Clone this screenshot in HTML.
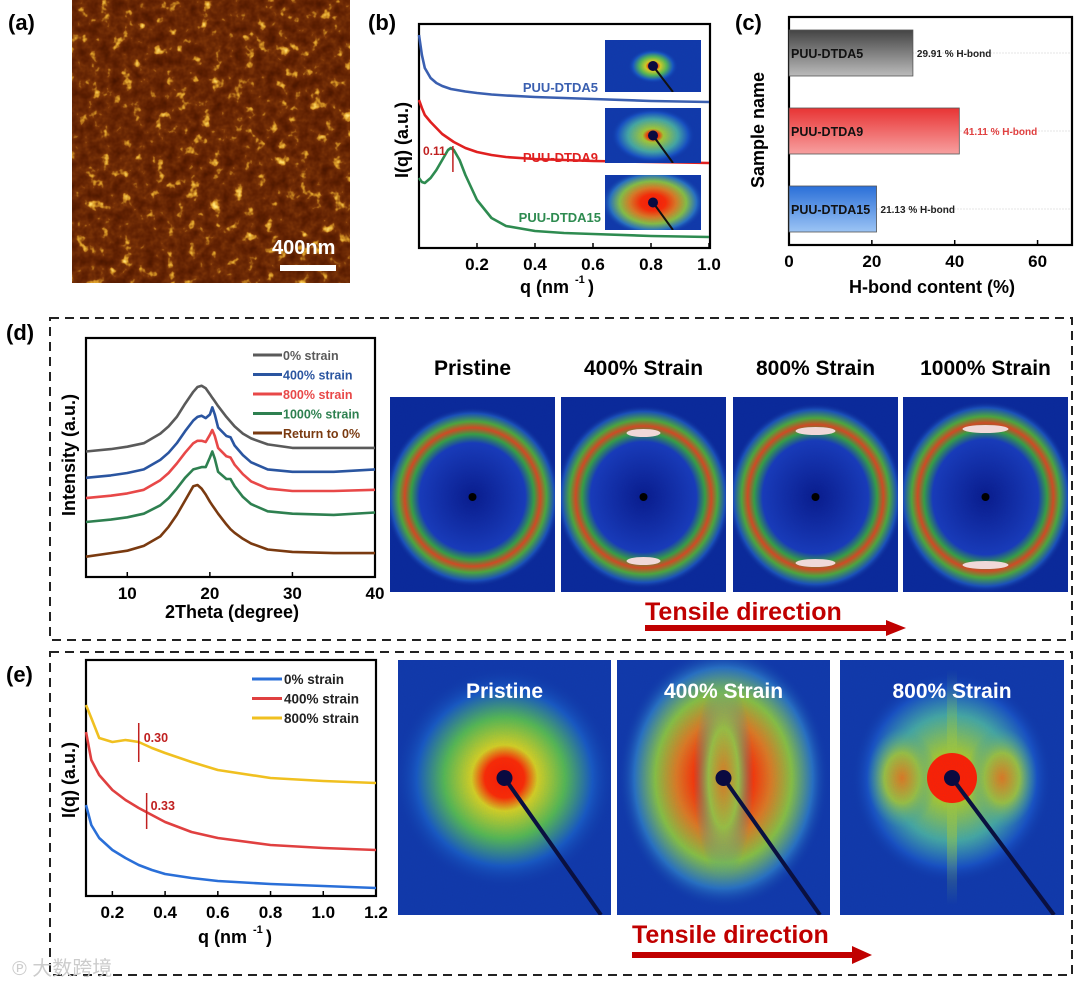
<!DOCTYPE html>
<html><head><meta charset="utf-8"><style>
html,body{margin:0;padding:0;background:#fff;width:1080px;height:983px;overflow:hidden}
svg{display:block;font-family:"Liberation Sans","Noto Sans CJK SC",sans-serif;font-weight:bold}
</style></head><body>
<svg id="fig" width="1080" height="983" viewBox="0 0 1080 983">
<defs>
<filter id="afm" x="0" y="0" width="100%" height="100%" color-interpolation-filters="sRGB">
<feTurbulence type="fractalNoise" baseFrequency="0.09" numOctaves="3" seed="4"/>
<feColorMatrix type="matrix" values="1 0 0 0 0 1 0 0 0 0 1 0 0 0 0 0 0 0 0 1"/>
<feComponentTransfer><feFuncR type="table" tableValues="0.26 0.3 0.34 0.38 0.42 0.48 0.85 1 1"/><feFuncG type="table" tableValues="0.07 0.09 0.11 0.13 0.16 0.2 0.6 0.85 0.95"/><feFuncB type="table" tableValues="0 0 0 0.01 0.02 0.03 0.15 0.4 0.6"/><feFuncA type="table" tableValues="1 1"/></feComponentTransfer>
</filter>
<filter id="speck" x="0" y="0" width="100%" height="100%">
<feTurbulence type="fractalNoise" baseFrequency="0.9" numOctaves="1" seed="2" result="n"/>
<feColorMatrix in="n" type="matrix" values="0 0 0 0 0 0 0 0 0 0.1 0 0 0 0 0.6 0 0 0 0.25 0"/>
</filter>
<radialGradient id="ringD"><stop offset="0" stop-color="#0a1a8a"/><stop offset="0.6" stop-color="#1a3ab8"/><stop offset="0.7" stop-color="#3aa040"/><stop offset="0.77" stop-color="#d84a1e"/><stop offset="0.84" stop-color="#50a838"/><stop offset="0.93" stop-color="#1c50b8"/><stop offset="1" stop-color="#0d2590" stop-opacity="0"/></radialGradient>
<radialGradient id="saxs1"><stop offset="0" stop-color="#ff1a00"/><stop offset="0.18" stop-color="#ff2a00"/><stop offset="0.3" stop-color="#d8d020"/><stop offset="0.55" stop-color="#58b850"/><stop offset="0.8" stop-color="#1a58c0"/><stop offset="1" stop-color="#123aa8" stop-opacity="0"/></radialGradient>
<radialGradient id="saxs2"><stop offset="0" stop-color="#ff1a00"/><stop offset="0.25" stop-color="#ff2a00"/><stop offset="0.45" stop-color="#e07a20"/><stop offset="0.65" stop-color="#8ac040"/><stop offset="0.85" stop-color="#2a70c0"/><stop offset="1" stop-color="#123aa8" stop-opacity="0"/></radialGradient>
<radialGradient id="saxs3"><stop offset="0" stop-color="#ff1a00"/><stop offset="0.13" stop-color="#ff2a00"/><stop offset="0.25" stop-color="#a8c830"/><stop offset="0.6" stop-color="#48a8a0"/><stop offset="0.85" stop-color="#1a50c0"/><stop offset="1" stop-color="#123aa8" stop-opacity="0"/></radialGradient>
<radialGradient id="lobe"><stop offset="0" stop-color="#e07a20"/><stop offset="0.5" stop-color="#9cc040"/><stop offset="1" stop-color="#40a0a0" stop-opacity="0"/></radialGradient>
<linearGradient id="band" x1="0" y1="0" x2="0" y2="1"><stop offset="0" stop-color="#70b860" stop-opacity="0"/><stop offset="0.3" stop-color="#a0c840"/><stop offset="0.7" stop-color="#a0c840"/><stop offset="1" stop-color="#70b860" stop-opacity="0"/></linearGradient>
<linearGradient id="gGray" x1="0" y1="0" x2="0" y2="1"><stop offset="0" stop-color="#444"/><stop offset="1" stop-color="#bbb"/></linearGradient>
<linearGradient id="gRed" x1="0" y1="0" x2="0" y2="1"><stop offset="0" stop-color="#e83434"/><stop offset="1" stop-color="#f7a0a0"/></linearGradient>
<linearGradient id="gBlue" x1="0" y1="0" x2="0" y2="1"><stop offset="0" stop-color="#2a6fd8"/><stop offset="1" stop-color="#9cc4f4"/></linearGradient>
</defs>

<text x="8" y="30" font-size="22">(a)</text>
<rect x="72" y="0" width="278" height="283" fill="#6a3008" filter="url(#afm)"/>
<text x="272" y="254" font-size="20" fill="#fff">400nm</text>
<rect x="280" y="265" width="56" height="6" fill="#fff"/>

<text x="368" y="30" font-size="22">(b)</text>
<g id="pb"></g>
<text x="735" y="30" font-size="22">(c)</text>
<g id="pc"></g>

<rect x="50" y="318" width="1022" height="322" fill="none" stroke="#222" stroke-width="2" stroke-dasharray="9,6"/>
<text x="6" y="340" font-size="22">(d)</text>
<g id="pd"></g>
<g id="dimgs"></g>
<text x="645" y="620" font-size="25" fill="#c00000">Tensile direction</text>
<path d="M645 628 H890" stroke="#c00000" stroke-width="6"/><path d="M886 620 L906 628 L886 636 Z" fill="#c00000"/>

<rect x="50" y="652" width="1022" height="323" fill="none" stroke="#222" stroke-width="2" stroke-dasharray="9,6"/>
<text x="6" y="682" font-size="22">(e)</text>
<g id="pe"></g>
<g id="eimgs"></g>
<text x="632" y="943" font-size="25" fill="#c00000">Tensile direction</text>
<path d="M632 955 H855" stroke="#c00000" stroke-width="6"/><path d="M852 946 L872 955 L852 964 Z" fill="#c00000"/>
<text x="12" y="975" font-size="20" fill="#ccc" font-weight="normal">℗ 大数跨境</text>
</svg>
<script>
var bQ=[0,0.01,0.02,0.04,0.06,0.08,0.1,0.11,0.12,0.14,0.16,0.2,0.25,0.3,0.4,0.5,0.6,0.8,1.0];
var bBlue=[213,193,180,170,165,162,160,159,158.5,157.5,156.5,155,153.5,152.5,151,150,149,147,146];
var bRed=[148,140,133,126,120,114,110,108,106,103,100,96,93,91,89,88,87,86,85];
var bGreen=[70,66,65,70,78,88,98,100,98,88,73,48,30,22,17,15,14,12,11];
var bTicks=[0.2,0.4,0.6,0.8,1.0];
var cNames=["PUU-DTDA5","PUU-DTDA9","PUU-DTDA15"];
var cValues=[29.91,41.11,21.13];
var cTicks=[0,20,40,60];
var dTheta=[5,8,10,12,14,15,16,17,18,18.5,19,19.5,20,20.3,20.6,21,22,22.5,23,24,25,27,30,35,40];
var d0=[52.5,53.5,54.5,56,60,63,67,72.5,77.5,79.5,80,79,76.5,75,73.5,71.5,67,65,63,60,58,55.5,54,54,54];
var d400=[41.5,42.5,43.5,45,49,52,56,61,65.5,67,67.5,66.5,68,71,68,62.5,59,58.5,55,51,48,45,44,44,45];
var d800=[33,34,35,36.5,40.5,43.5,47.5,52,56,57,57,56.5,59.5,61.5,59,54,50.5,50,47,43,40,37,36,36,36.5];
var d1000=[23,24,25,26.5,30,33,37,41.5,45,45.5,46,46,50,52.5,49.5,44,41,41,38,33.5,30.5,27.5,26.5,26,27];
var dRet=[8.5,10,11,13,17,21,26,32,38,38.5,37,34.5,31.5,30,28.5,26.5,22,20,18.5,16,14,11.5,10.5,10,10];
var dTicks=[10,20,30,40];
var dLegend=["0% strain","400% strain","800% strain","1000% strain","Return to 0%"];
var eQ=[0.1,0.12,0.15,0.2,0.25,0.3,0.35,0.4,0.5,0.6,0.8,1.0,1.2];
var e800=[191,178,158,154,156,154,148,143,134,126,118,115,113];
var e400=[164,136,121,106,96,88,81,74,64,58,51,48,46];
var e0=[91,71,58,46,38,31,26,22,18,15,12,10,8];
var eTicks=[0.2,0.4,0.6,0.8,1.0,1.2];
var eLegend=["0% strain","400% strain","800% strain"];

var NS="http://www.w3.org/2000/svg";
function mk(p,tag,at,txt){var e=document.createElementNS(NS,tag);for(var k in at)e.setAttribute(k,at[k]);if(txt!=null)e.textContent=txt;p.appendChild(e);return e;}
function lin(d0,d1,r0,r1){return function(v){return r0+(v-d0)/(d1-d0)*(r1-r0);};}
function line(g,xs,ys,sx,sy,col,name){var d="";for(var i=0;i<xs.length;i++){d+=(i?"L":"M")+sx(xs[i]).toFixed(1)+" "+sy(ys[i]).toFixed(1);}
 var p=mk(g,"path",{d:d,fill:"none",stroke:col,"stroke-width":2.6,"stroke-linejoin":"round"});
 
 
 return p;}
function frame(g,x0,y0,x1,y1,name){var r=mk(g,"rect",{x:x0,y:y0,width:x1-x0,height:y1-y0,fill:"none",stroke:"#000","stroke-width":2.2});
 
 }
function xt(g,ticks,sx,yb,fmt,fs){ticks.forEach(function(t){mk(g,"line",{x1:sx(t),x2:sx(t),y1:yb,y2:yb-5,stroke:"#000","stroke-width":1.5});
 var l=mk(g,"text",{x:sx(t),y:yb+22,"font-size":fs,"text-anchor":"middle"},fmt(t));
 
 });}
function box(p,x,y,w,h){return mk(p,"svg",{x:x,y:y,width:w,height:h,viewBox:x+" "+y+" "+w+" "+h,overflow:"hidden"});}

(function(){var g=document.getElementById("pb");
var sx=lin(0,1,419,709), sy=function(v){return 248-v;};
frame(g,419,24,710,248,"plot-b-frame");
line(g,bQ,bBlue,sx,sy,"#3a5fb0","curve-dtda5");
line(g,bQ,bRed,sx,sy,"#e02020","curve-dtda9");
line(g,bQ,bGreen,sx,sy,"#2e8b50","curve-dtda15");
xt(g,bTicks,sx,248,function(t){return t.toFixed(1);},17);
var t=mk(g,"text",{x:520,y:293,"font-size":18},"q (nm");  
mk(g,"text",{x:575,y:283,"font-size":11},"-1"); mk(g,"text",{x:588,y:293,"font-size":18},")");
var y=mk(g,"text",{x:408,y:140,"font-size":18,"text-anchor":"middle",transform:"rotate(-90 408 140)"},"I(q) (a.u.)");
 
var labs=[["PUU-DTDA5",598,92,"#3a5fb0"],["PUU-DTDA9",598,162,"#e02020"],["PUU-DTDA15",601,222,"#2e8b50"]];
labs.forEach(function(L){var e=mk(g,"text",{x:L[1],y:L[2],"font-size":13,"text-anchor":"end",fill:L[3]},L[0]);  });
mk(g,"line",{x1:sx(0.11)+2,x2:sx(0.11)+2,y1:146,y2:172,stroke:"#c02020","stroke-width":1.5});
mk(g,"text",{x:423,y:155,"font-size":12,fill:"#c02020"},"0.11");
var ins=[[605,40,52,"saxs1",0.35],[605,108,55,"saxs3",0.7],[605,175,55,"saxs2",0.9]];
ins.forEach(function(I,i){var x=I[0],yy=I[1],h=I[2];
 var s=box(g,x,yy,96,h);
 var r=mk(s,"rect",{x:x,y:yy,width:96,height:h,fill:"#1238a8"});  
 mk(s,"ellipse",{cx:x+48,cy:yy+h/2,rx:I[4]*48+8,ry:I[4]*h/2+8,fill:"url(#"+I[3]+")"});
 mk(s,"rect",{x:x,y:yy,width:96,height:h,fill:"#000",filter:"url(#speck)",opacity:0.4});
 mk(s,"line",{x1:x+48,y1:yy+h/2,x2:x+68,y2:yy+h,stroke:"#111","stroke-width":2});
 mk(s,"circle",{cx:x+48,cy:yy+h/2,r:5,fill:"#0a0a40"});});
})();

(function(){var g=document.getElementById("pc");
var sx=lin(0,70,789,1079);
frame(g,789,17,1072,245,"plot-c-frame");
var cols=["url(#gGray)","url(#gRed)","url(#gBlue)"], tcol=["#222","#e04040","#222"];
cNames.forEach(function(n,i){var yy=30+i*78;
 mk(g,"line",{x1:789,x2:1070,y1:yy+23,y2:yy+23,stroke:"#e4e4e4","stroke-width":1,"stroke-dasharray":"2,1"});
 var b=mk(g,"rect",{x:789,y:yy,width:sx(cValues[i])-789,height:46,fill:cols[i],stroke:"#555","stroke-width":0.8});
 
 
 mk(g,"text",{x:791,y:yy+28,"font-size":12.5,fill:"#111"},n);
 var v=mk(g,"text",{x:sx(cValues[i])+4,y:yy+27,"font-size":10,fill:tcol[i]},cValues[i].toFixed(2)+" % H-bond");
  });
xt(g,cTicks,sx,245,function(t){return t;},17);
var t=mk(g,"text",{x:932,y:293,"font-size":18,"text-anchor":"middle"},"H-bond content (%)");  
var y=mk(g,"text",{x:764,y:130,"font-size":18,"text-anchor":"middle",transform:"rotate(-90 764 130)"},"Sample name");  
})();

(function(){var g=document.getElementById("pd");
var sx=lin(5,40,86,375), sy=lin(0,100,577,338);
frame(g,86,338,375,577,"plot-d-frame");
var cols=["#5a5a5a","#2a55a0","#e84848","#2e8050","#7a3a10"];
var ser=[d0,d400,d800,d1000,dRet];
ser.forEach(function(s,i){line(g,dTheta,s,sx,sy,cols[i],"curve-"+dLegend[i].replace(/[% ]+/g,"-").toLowerCase());});
xt(g,dTicks,sx,577,function(t){return t;},17);
var t=mk(g,"text",{x:232,y:618,"font-size":18,"text-anchor":"middle"},"2Theta (degree)");  
var y=mk(g,"text",{x:75,y:455,"font-size":18,"text-anchor":"middle",transform:"rotate(-90 75 455)"},"Intensity (a.u.)");  
dLegend.forEach(function(n,i){var yy=355+i*19.5;
 mk(g,"line",{x1:253,x2:282,y1:yy,y2:yy,stroke:cols[i],"stroke-width":3});
 var e=mk(g,"text",{x:283,y:yy+5,"font-size":12.5,fill:cols[i]},n);  });
var im=document.getElementById("dimgs");
var titles=["Pristine","400% Strain","800% Strain","1000% Strain"], xs=[390,561,733,903];
titles.forEach(function(n,i){var x=xs[i],w=165,yy=397,h=195,cx=x+w/2,cy=yy+100;
 var tt=mk(im,"text",{x:cx,y:375,"font-size":21,"text-anchor":"middle"},n);  
 var s=box(im,x,yy,w,h);
 var r=mk(s,"rect",{x:x,y:yy,width:w,height:h,fill:"#0c2898"});  
 mk(s,"ellipse",{cx:cx,cy:cy,rx:88,ry:90+i*2,fill:"url(#ringD)"});
 mk(s,"rect",{x:x,y:yy,width:w,height:h,fill:"#000",filter:"url(#speck)",opacity:0.35});
 if(i>0){mk(s,"ellipse",{cx:cx,cy:cy-62-i*2,rx:14+i*3,ry:4,fill:"#f0d8d8"});mk(s,"ellipse",{cx:cx,cy:cy+62+i*2,rx:14+i*3,ry:4,fill:"#f0d8d8"});}
 mk(s,"circle",{cx:cx,cy:cy,r:4,fill:"#000"});});
})();

(function(){var g=document.getElementById("pe");
var sx=lin(0.1,1.2,86,376), sy=function(v){return 896-v;};
frame(g,86,660,376,896,"plot-e-frame");
var cols=["#2a6fd8","#e04040","#f0c020"];
line(g,eQ,e800,sx,sy,cols[2],"curve-800-strain");
line(g,eQ,e400,sx,sy,cols[1],"curve-400-strain");
line(g,eQ,e0,sx,sy,cols[0],"curve-0-strain");
xt(g,eTicks,sx,896,function(t){return t.toFixed(1);},17);
var t=mk(g,"text",{x:198,y:943,"font-size":18},"q (nm");  
mk(g,"text",{x:253,y:933,"font-size":11},"-1"); mk(g,"text",{x:266,y:943,"font-size":18},")");
var y=mk(g,"text",{x:75,y:780,"font-size":18,"text-anchor":"middle",transform:"rotate(-90 75 780)"},"I(q) (a.u.)");  
eLegend.forEach(function(n,i){var yy=679+i*19.5;
 mk(g,"line",{x1:252,x2:282,y1:yy,y2:yy,stroke:cols[i],"stroke-width":3});
 var e=mk(g,"text",{x:284,y:yy+5,"font-size":13.5,fill:"#222"},n);  });
mk(g,"line",{x1:sx(0.30),x2:sx(0.30),y1:723,y2:762,stroke:"#c02020","stroke-width":1.5});
mk(g,"text",{x:sx(0.30)+5,y:742,"font-size":12.5,fill:"#c02020"},"0.30");
mk(g,"line",{x1:sx(0.33),x2:sx(0.33),y1:793,y2:829,stroke:"#c02020","stroke-width":1.5});
mk(g,"text",{x:sx(0.33)+4,y:810,"font-size":12.5,fill:"#c02020"},"0.33");
var im=document.getElementById("eimgs");
var titles=["Pristine","400% Strain","800% Strain"], xs=[398,617,840], ws=[213,213,224];
titles.forEach(function(n,i){var x=xs[i],w=ws[i],yy=660,h=255,cx=x+w/2,cy=yy+118;
 var s=box(im,x,yy,w,h);
 var r=mk(s,"rect",{x:x,y:yy,width:w,height:h,fill:"#1238a8"});  
 if(i==0){mk(s,"circle",{cx:cx,cy:cy,r:110,fill:"url(#saxs1)"});}
 if(i==1){mk(s,"ellipse",{cx:cx,cy:cy,rx:105,ry:130,fill:"url(#saxs2)"});mk(s,"ellipse",{cx:cx,cy:cy,rx:30,ry:100,fill:"url(#lobe)"});}
 if(i==2){mk(s,"ellipse",{cx:cx,cy:cy,rx:100,ry:105,fill:"url(#saxs3)"});mk(s,"ellipse",{cx:cx-50,cy:cy,rx:35,ry:50,fill:"url(#lobe)"});mk(s,"ellipse",{cx:cx+50,cy:cy,rx:35,ry:50,fill:"url(#lobe)"});mk(s,"rect",{x:cx-5,y:yy+10,width:10,height:h-20,fill:"url(#band)",opacity:0.55});mk(s,"circle",{cx:cx,cy:cy,r:25,fill:"#ff2000"});}
 mk(s,"rect",{x:x,y:yy,width:w,height:h,fill:"#000",filter:"url(#speck)",opacity:0.35});
 mk(s,"line",{x1:cx,y1:cy,x2:x+w-10,y2:yy+h,stroke:"#0a1040","stroke-width":4});
 mk(s,"circle",{cx:cx,cy:cy,r:8,fill:"#0a0a40"});
 var tt=mk(im,"text",{x:x+w/2,y:yy+38,"font-size":21,fill:"#fff","text-anchor":"middle"},n);  });
})();
</script>
</body></html>
